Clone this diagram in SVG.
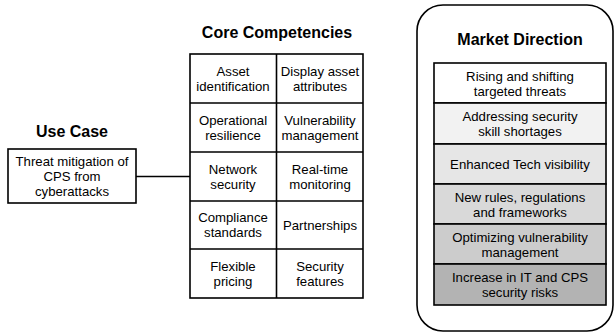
<svg xmlns="http://www.w3.org/2000/svg" width="616" height="333" viewBox="0 0 616 333">
<style>
text{font-family:"Liberation Sans",Arial,sans-serif;fill:#000;text-anchor:middle}
.t{font-size:16px;font-weight:bold}
.l{font-size:13.2px}
.b{stroke:#000;stroke-width:1.6}
</style>
<rect width="616" height="333" fill="#fff"/>
<g id="connectors">
<line x1="136" y1="176.5" x2="190" y2="176.5" stroke="#000" stroke-width="1.5"/>
</g>
<g id="use-case">
<text class="t" x="72" y="137">Use Case</text>
<rect class="b" x="8" y="149" width="128" height="54" fill="#fff"/>
<text class="l" x="72" y="166">Threat mitigation of</text>
<text class="l" x="72" y="181">CPS from</text>
<text class="l" x="72" y="196">cyberattacks</text>
</g>
<g id="core-competencies">
<text class="t" x="277" y="38">Core Competencies</text>
<rect class="b" x="190" y="54" width="173" height="244" fill="#fff"/>
<path class="b" d="M276.5 54V298M190 103H363M190 152H363M190 201H363M190 249H363" fill="none"/>
<text class="l" x="233" y="76">Asset</text><text class="l" x="233" y="91">identification</text>
<text class="l" x="320" y="76">Display asset</text><text class="l" x="320" y="91">attributes</text>
<text class="l" x="233" y="125">Operational</text><text class="l" x="233" y="140">resilience</text>
<text class="l" x="320" y="125">Vulnerability</text><text class="l" x="320" y="140">management</text>
<text class="l" x="233" y="174">Network</text><text class="l" x="233" y="189">security</text>
<text class="l" x="320" y="174">Real-time</text><text class="l" x="320" y="189">monitoring</text>
<text class="l" x="233" y="222">Compliance</text><text class="l" x="233" y="237">standards</text>
<text class="l" x="320" y="230">Partnerships</text>
<text class="l" x="233" y="271">Flexible</text><text class="l" x="233" y="286">pricing</text>
<text class="l" x="320" y="271">Security</text><text class="l" x="320" y="286">features</text>
</g>
<g id="market-direction">
<rect class="b" x="417" y="5" width="196" height="326" rx="26" fill="#fff"/>
<text class="t" x="520" y="45">Market Direction</text>
<rect class="b" x="434" y="63" width="172" height="40" fill="#ffffff"/>
<rect class="b" x="434" y="103" width="172" height="41" fill="#f2f2f2"/>
<rect class="b" x="434" y="144" width="172" height="40" fill="#e6e6e6"/>
<rect class="b" x="434" y="184" width="172" height="40" fill="#d9d9d9"/>
<rect class="b" x="434" y="224" width="172" height="40" fill="#cccccc"/>
<rect class="b" x="434" y="264" width="172" height="41" fill="#b3b3b3"/>
<text class="l" x="520" y="81">Rising and shifting</text><text class="l" x="520" y="96">targeted threats</text>
<text class="l" x="520" y="121">Addressing security</text><text class="l" x="520" y="136">skill shortages</text>
<text class="l" x="520" y="169">Enhanced Tech visibility</text>
<text class="l" x="520" y="202">New rules, regulations</text><text class="l" x="520" y="217">and frameworks</text>
<text class="l" x="520" y="242">Optimizing vulnerability</text><text class="l" x="520" y="257">management</text>
<text class="l" x="520" y="282">Increase in IT and CPS</text><text class="l" x="520" y="297">security risks</text>
</g>
</svg>
